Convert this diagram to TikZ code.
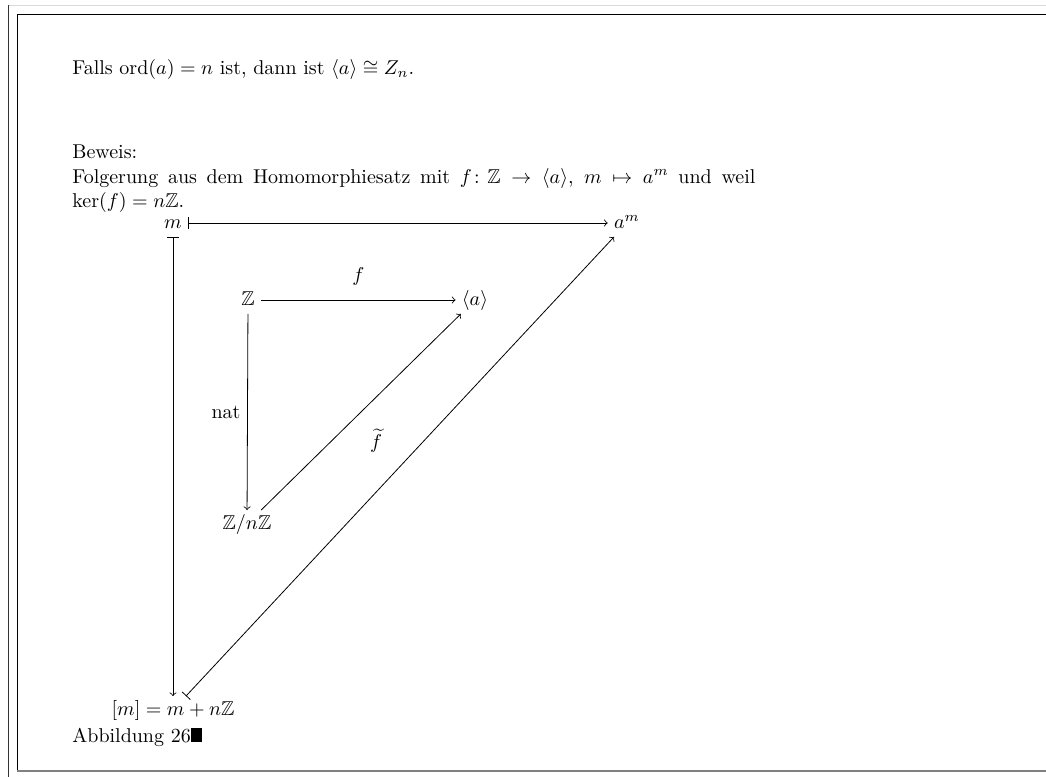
\documentclass[tikz,border=0pt]{standalone}
\usepackage{amsmath}
\usepackage{amssymb}
\usetikzlibrary{positioning}
\tikzset{
    obj/.style={inner sep=3pt, text height=1.5ex, text depth=0.25ex},
    map/.style={->},
    mapsto/.style={|->},
    txt/.style={anchor=base west, inner sep=0pt},
}
\begin{document}
\begin{tikzpicture}[x=0.5pt, y=-0.5pt]
    \useasboundingbox (0,0) rectangle (1046,777);

    % Frames
    \draw[gray!30] (8,5) -- (1046,5);
    \draw[black!80] (8,5) -- (8,777);
    \draw (17,771) -- (17,14) -- (1046,14);
    \draw[gray, line width=1pt] (17,771) -- (1046,771);

    % Statement and proof
    \node[txt] (claim) at (72,74)
        {Falls $\mathrm{ord}(a)=n$ ist, dann ist $\langle a\rangle\cong Z_n$.};
    \node[txt] (proof) at (72,158) {Beweis:};
    \node[txt, text width=341.5pt, align=justify] (reason) at (72,183)
        {Folgerung aus dem Homomorphiesatz mit $f\colon\mathbb{Z}\to\langle a\rangle$,
         $m\mapsto a^m$ und weil $\ker(f)=n\mathbb{Z}$.};

    % Diagram objects
    \node[obj] (m) at (173,223) {$m$};
    \node[obj] (am) at (627,223) {$a^m$};
    \node[obj] (Z) at (248,300) {$\mathbb{Z}$};
    \node[obj] (gen) at (475,300) {$\langle a\rangle$};
    \node[obj] (quot) at (247,524) {$\mathbb{Z}/n\mathbb{Z}$};
    \node[obj] (cls) at (173,710) {$[m]=m+n\mathbb{Z}$};

    % Maps
    \draw[mapsto] (m) -- (am);
    \draw[mapsto] (m) -- (cls);
    \draw[map] (Z) -- (gen) node[midway, above, yshift=4pt] {$f$};
    \draw[map] (Z) -- (quot) node[midway, left] {nat};
    \draw[map] (quot) -- (gen)
        node[midway, below right, xshift=1pt, yshift=-5pt] {$\widetilde{f}$};
    \draw[mapsto] (cls) -- (am);

    % Caption
    \node[txt] (caption) at (72,742) {Abbildung 26\rule{5.5pt}{7pt}};
\end{tikzpicture}
\end{document}
